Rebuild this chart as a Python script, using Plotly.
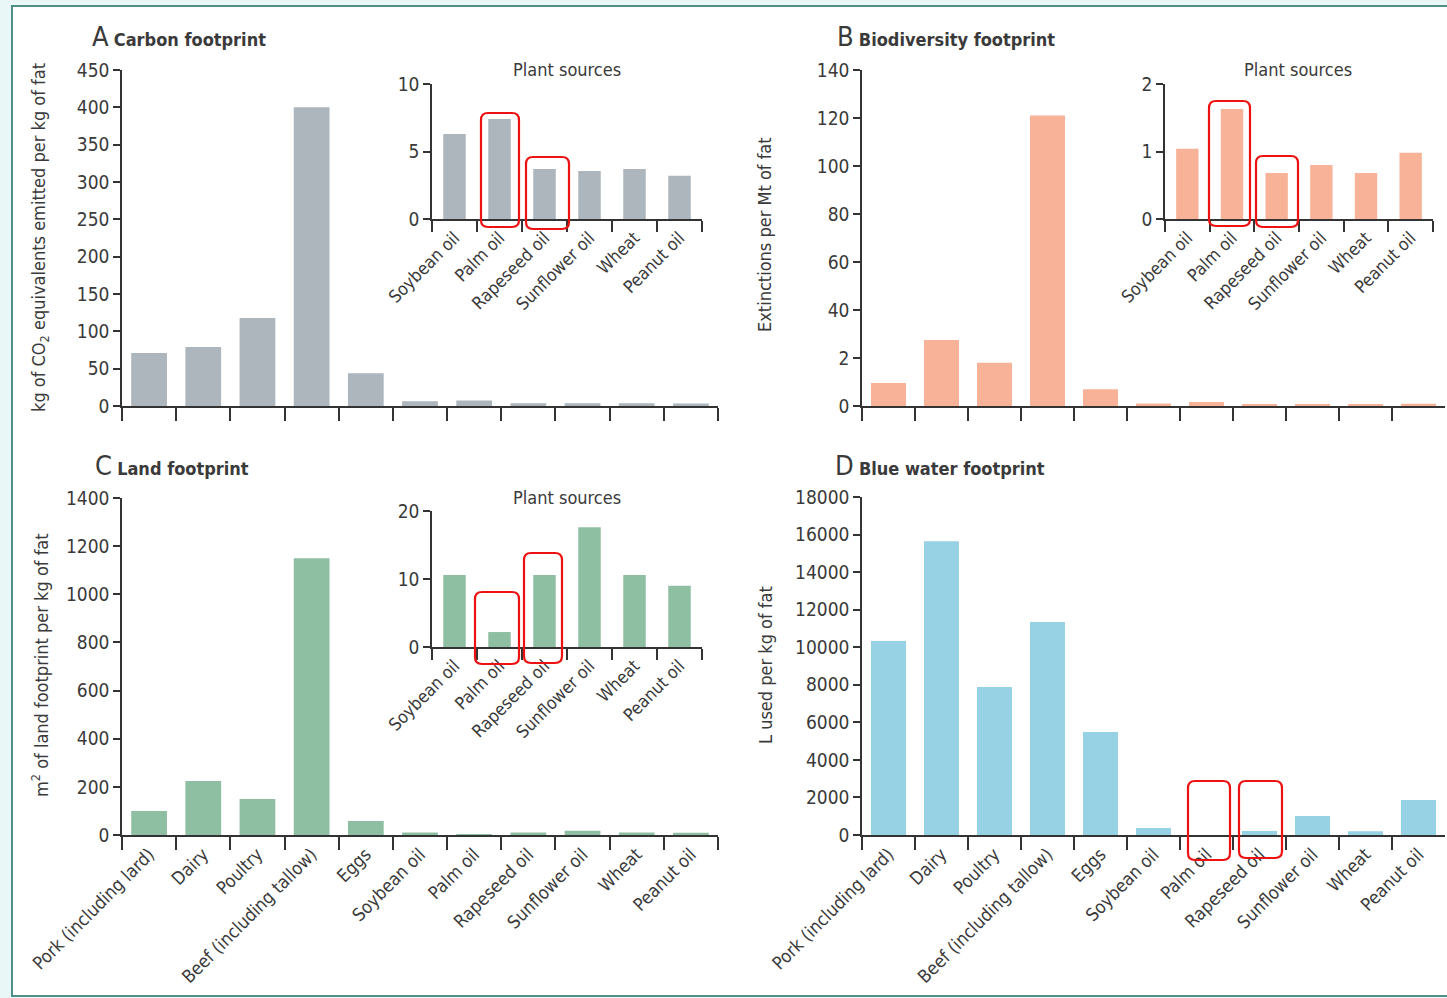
import plotly.graph_objects as go

# ---------------- data ----------------
categories = ["Pork (including lard)", "Dairy", "Poultry", "Beef (including tallow)", "Eggs",
              "Soybean oil", "Palm oil", "Rapeseed oil", "Sunflower oil", "Wheat", "Peanut oil"]
plant_categories = ["Soybean oil", "Palm oil", "Rapeseed oil", "Sunflower oil", "Wheat", "Peanut oil"]

carbon_animal = [71, 79, 118, 400, 44]
carbon_plant = [6.3, 7.4, 3.7, 3.55, 3.7, 3.2]

biodiv_animal = [9.6, 27.5, 18, 121, 7]
biodiv_plant = [1.04, 1.63, 0.68, 0.8, 0.68, 0.98]

land_animal = [100, 224, 150, 1150, 58]
land_plant = [10.6, 2.2, 10.6, 17.6, 10.6, 9.0]

water_animal = [10330, 15650, 7880, 11340, 5480]
water_plant = [370, 0, 210, 1010, 200, 1860]

carbon_ticks = [0, 50, 100, 150, 200, 250, 300, 350, 400, 450]
biodiv_ticks = [0, 20, 40, 60, 80, 100, 120, 140]
biodiv_ticktext = ["0", "2", "40", "60", "80", "100", "120", "140"]
land_ticks = [0, 200, 400, 600, 800, 1000, 1200, 1400]
water_ticks = [0, 2000, 4000, 6000, 8000, 10000, 12000, 14000, 16000, 18000]
carbon_inset_ticks = [0, 5, 10]
biodiv_inset_ticks = [0, 1, 2]
land_inset_ticks = [0, 10, 20]

# ---------------- styling ----------------
W, H = 1447, 998
FONT = "Liberation Sans Narrow, DejaVu Sans Condensed, Arial Narrow, sans-serif"
TXT = "#3a3a3a"
AX = "#333333"
GREY, SALMON, GREEN, BLUE = "#adb6bc", "#f8b298", "#8fbfa2", "#97d2e4"


def px(x):
    return x / W


def py(y):
    return 1 - y / H


fig = go.Figure()

panels = [
    ("", 122, 718, 406, 70, 450, carbon_ticks, None, categories, False, GREY, carbon_animal + carbon_plant, False),
    ("2", 862, 1445, 406, 70, 140, biodiv_ticks, biodiv_ticktext, categories, False, SALMON, biodiv_animal + biodiv_plant, False),
    ("3", 122, 718, 835, 498, 1400, land_ticks, None, categories, True, GREEN, land_animal + land_plant, False),
    ("4", 862, 1445, 835, 497, 18000, water_ticks, None, categories, True, BLUE, water_animal + water_plant, False),
    ("5", 432, 702, 219, 84, 10, carbon_inset_ticks, None, plant_categories, True, GREY, carbon_plant, True),
    ("6", 1165, 1433, 219, 84, 2, biodiv_inset_ticks, None, plant_categories, True, SALMON, biodiv_plant, True),
    ("7", 432, 702, 647, 511, 20, land_inset_ticks, None, plant_categories, True, GREEN, land_plant, True),
]

layout_axes = {}
for (n, x0, x1, yb, yt, ymax, tv, tt, cats, showlab, color, vals, inset) in panels:
    fig.add_trace(go.Bar(x=cats, y=vals, marker=dict(color=color, line=dict(width=0)),
                         width=0.66 if not inset else 0.5,
                         xaxis="x" + n, yaxis="y" + n, showlegend=False))
    layout_axes["xaxis" + n] = dict(
        domain=[px(x0), px(x1)], anchor="y" + n, type="category",
        categoryorder="array", categoryarray=cats, range=[-0.5, len(cats) - 0.5],
        showline=True, linecolor=AX, linewidth=1.6, showgrid=False, zeroline=False,
        ticks="outside", tickson="boundaries", ticklen=13 if not inset else 11,
        tickwidth=1.6, tickcolor=AX, showticklabels=showlab, tickangle=-45,
        tickfont=dict(family=FONT, size=18 if not inset else 17.5, color=TXT),
        automargin=False,
    )
    layout_axes["yaxis" + n] = dict(
        domain=[py(yb), py(yt)], anchor="x" + n, range=[0, ymax],
        showline=True, linecolor=AX, linewidth=1.6, showgrid=False, zeroline=False,
        ticks="outside", ticklen=7, tickwidth=1.6, tickcolor=AX,
        tickvals=tv, ticktext=tt if tt else [str(v) for v in tv],
        tickfont=dict(family=FONT, size=19, color=TXT),
        automargin=False,
    )

annotations = []
for letter, title, x, y in [("A", "Carbon footprint", 90, 36), ("B", "Biodiversity footprint", 835, 36),
                            ("C", "Land footprint", 93, 465), ("D", "Blue water footprint", 833, 465)]:
    annotations.append(dict(text=f"<span style='font-size:27px'>{letter}</span> <b>{title}</b>",
                            x=px(x), y=py(y), xref="paper", yref="paper", xanchor="left", yanchor="middle",
                            showarrow=False, font=dict(family=FONT, size=18, color=TXT)))
for x, y in [(567, 70), (1298, 70), (567, 497)]:
    annotations.append(dict(text="Plant sources", x=px(x), y=py(y), xref="paper", yref="paper",
                            xanchor="center", yanchor="middle", showarrow=False,
                            font=dict(family=FONT, size=18, color=TXT)))
for text, x, y in [("kg of CO<sub>2</sub> equivalents emitted per kg of fat", 40, 238),
                   ("Extinctions per Mt of fat", 765, 235),
                   ("m<sup>2</sup> of land footprint per kg of fat", 40, 665),
                   ("L used per kg of fat", 765, 665)]:
    annotations.append(dict(text=text, x=px(x), y=py(y), xref="paper", yref="paper", textangle=-90,
                            xanchor="center", yanchor="middle", showarrow=False,
                            font=dict(family=FONT, size=18, color=TXT)))


def rrect(x0, y0, x1, y1, r=7):
    X0, X1 = px(x0), px(x1)
    Y0, Y1 = py(y0), py(y1)
    rx, ry = r / W, r / H
    return (f"M {X0+rx},{Y0} L {X1-rx},{Y0} Q {X1},{Y0} {X1},{Y0-ry} "
            f"L {X1},{Y1+ry} Q {X1},{Y1} {X1-rx},{Y1} L {X0+rx},{Y1} Q {X0},{Y1} {X0},{Y1+ry} "
            f"L {X0},{Y0-ry} Q {X0},{Y0} {X0+rx},{Y0} Z")


shapes = [
    dict(type="rect", xref="paper", yref="paper", x0=px(12), x1=1.01, y0=py(996), y1=py(6),
         line=dict(color="#4f8f88", width=2), fillcolor="white", layer="below"),
]
for box in [(481, 113, 519, 227), (526, 157, 569, 229),
            (1209, 101, 1250, 226), (1256, 156, 1298, 227),
            (475, 592, 519, 664), (524, 553, 562, 663),
            (1188, 781, 1230, 860), (1239, 781, 1282, 858)]:
    shapes.append(dict(type="path", xref="paper", yref="paper", path=rrect(*box),
                       line=dict(color="#ee1111", width=2.2), fillcolor="rgba(0,0,0,0)", layer="above"))

fig.update_layout(
    width=W, height=H, margin=dict(l=0, r=0, t=0, b=0, pad=0, autoexpand=False),
    paper_bgcolor="#eaf7f7", plot_bgcolor="rgba(0,0,0,0)",
    annotations=annotations, shapes=shapes, bargap=0.34,
    font=dict(family=FONT, color=TXT),
    **layout_axes,
)

fig.write_html("out.html", config={"displayModeBar": False},
               post_script="document.body.style.margin='0';document.body.style.overflow='hidden';")
